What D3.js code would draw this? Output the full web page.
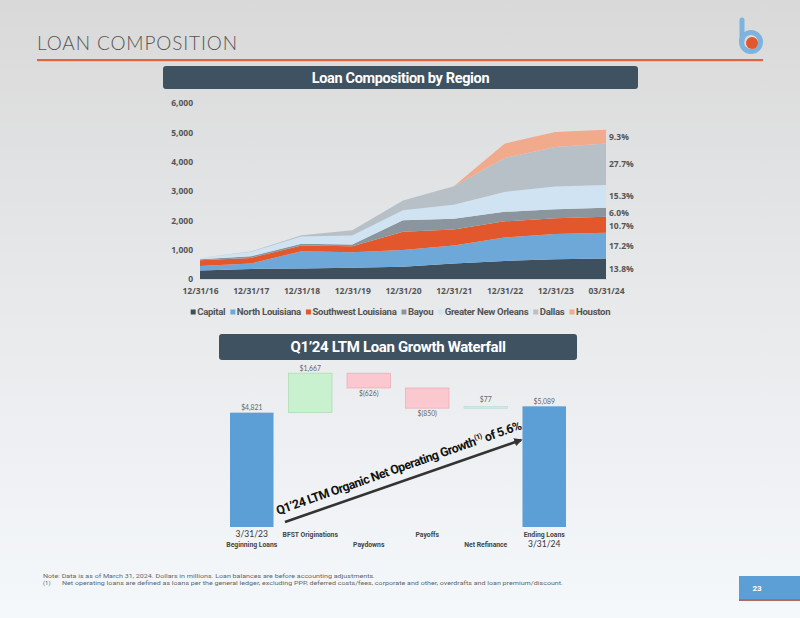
<!DOCTYPE html>
<html>
<head>
<meta charset="utf-8" />
<script src="https://cdn.jsdelivr.net/npm/d3@7"></script>
<style>
  body { margin: 0; }
  svg text { font-family: Roboto, "Open Sans", sans-serif; }
</style>
</head>
<body>
<script>
  // Loan composition by region ($M)
  var dates    = ["12/31/16","12/31/17","12/31/18","12/31/19","12/31/20","12/31/21","12/31/22","12/31/23","03/31/24"];
  var regions  = ["Capital","North Louisiana","Southwest Louisiana","Bayou","Greater New Orleans","Dallas","Houston"];
  var capital  = [290, 345, 360, 385, 420, 530, 615, 670, 702];
  var northLa  = [150, 180, 590, 530, 565, 610, 800, 860, 875];
  var swLa     = [200, 195, 190, 205, 625, 545, 550, 545, 545];
  var bayou    = [ 35,  55,  60,  55, 390, 365, 325, 305, 305];
  var gno      = [ 45, 145, 250, 305, 340, 485, 680, 770, 779];
  var dallas   = [  0,  20,  40, 180, 340, 625,1155,1350,1410];
  var houston  = [  0,   0,   0,   0,   0,   0, 490, 510, 473];
  var shares   = ["13.8%","17.2%","10.7%","6.0%","15.3%","27.7%","9.3%"];
  var regionColors = ["#3e4f5d","#6ea8d8","#e2572b","#8b959e","#d0e3f2","#b8c0c7","#f1aa8c"];
  var yTicks   = [0, 1000, 2000, 3000, 4000, 5000, 6000];

  // Q1'24 LTM waterfall ($M)
  var wfSteps  = ["BFST Originations","Paydowns","Payoffs","Net Refinance"];
  var wfStart  = 4821;
  var wfDeltas = [1667, -626, -850, 77];
  var wfEnd    = 5089;
  var wfTop    = [["3/31/23","Beginning Loans"],["BFST Originations",""],["","Paydowns"],["Payoffs",""],["","Net Refinance"],["Ending Loans","3/31/24"]];

  var W = 800, H = 618;
  var svg = d3.select("body").append("svg").attr("width", W).attr("height", H);

  var defs = svg.append("defs");
  var bg = defs.append("linearGradient").attr("id","bg").attr("x1",0).attr("y1",0).attr("x2",0).attr("y2",1);
  bg.append("stop").attr("offset","0%").attr("stop-color","#d9d9d9");
  bg.append("stop").attr("offset","55%").attr("stop-color","#e9ebed");
  bg.append("stop").attr("offset","100%").attr("stop-color","#f5f8fb");
  defs.append("marker").attr("id","arrowhead").attr("viewBox","0 0 10 10")
      .attr("refX",8).attr("refY",5).attr("markerWidth",3.2).attr("markerHeight",3.2)
      .attr("orient","auto")
    .append("path").attr("d","M0,0 L10,5 L0,10 z").attr("fill","#333");

  svg.append("rect").attr("width",W).attr("height",H).attr("fill","url(#bg)");

  // slide header
  svg.append("text").attr("x",37).attr("y",50).text("LOAN COMPOSITION")
     .style("font-family","Lato, sans-serif").style("font-weight",300)
     .attr("font-size",19).attr("fill","#555").attr("textLength",200);
  svg.append("rect").attr("x",37).attr("y",59).attr("width",726).attr("height",2).attr("fill","#dc6640");
  svg.append("rect").attr("x",37).attr("y",61).attr("width",726).attr("height",1).attr("fill","#efc2b0");

  // logo
  var logo = svg.append("g");
  logo.append("line").attr("x1",742).attr("y1",20).attr("x2",742).attr("y2",41)
      .attr("stroke","#7db3dd").attr("stroke-width",5).attr("stroke-linecap","round");
  logo.append("circle").attr("cx",751).attr("cy",42).attr("r",9.5)
      .attr("fill","none").attr("stroke","#7db3dd").attr("stroke-width",5);
  logo.append("circle").attr("cx",752).attr("cy",43).attr("r",6).attr("fill","#e2572b");

  function header(x, y, w, h, label, fs) {
    svg.append("rect").attr("x",x).attr("y",y).attr("width",w).attr("height",h)
       .attr("rx",3).attr("fill","#3f5261");
    svg.append("text").attr("x",x + w/2).attr("y",y + h/2 + 5).attr("text-anchor","middle")
       .attr("font-size",fs).attr("font-weight",700).attr("fill","#fff")
       .attr("letter-spacing",-0.35).text(label);
  }
  header(163, 66, 475, 23, "Loan Composition by Region", 14.5);
  header(219, 334, 358, 26, "Q1\u201924 LTM Loan Growth Waterfall", 15);

  // ---------- stacked area ----------
  var table = dates.map(function(d, i) {
    return {date: d, "Capital": capital[i], "North Louisiana": northLa[i], "Southwest Louisiana": swLa[i],
            "Bayou": bayou[i], "Greater New Orleans": gno[i], "Dallas": dallas[i], "Houston": houston[i]};
  });
  var series = d3.stack().keys(regions)(table);

  var x = d3.scalePoint().domain(dates).range([200, 606]);
  var y = d3.scaleLinear().domain([0, 6000]).range([279, 103]);
  var color = d3.scaleOrdinal().domain(regions).range(regionColors);

  var area = d3.area()
      .x(function(d) { return x(d.data.date); })
      .y0(function(d) { return y(d[0]); })
      .y1(function(d) { return y(d[1]); });

  svg.append("g").selectAll("path").data(series).join("path")
     .attr("fill", function(d) { return color(d.key); })
     .attr("d", area);

  svg.append("line").attr("x1",200).attr("x2",607).attr("y1",279.5).attr("y2",279.5)
     .attr("stroke","#d0d6dc").attr("stroke-width",1);

  var yAxis = svg.append("g").attr("transform","translate(193,0)")
     .call(d3.axisLeft(y).tickValues(yTicks).tickSize(0).tickPadding(0).tickFormat(d3.format(",")));
  yAxis.select(".domain").remove();
  yAxis.selectAll("text").attr("font-size",8.5).attr("font-weight",700).attr("fill","#555")
       .style("font-family","'Open Sans', sans-serif");

  var xAxis = svg.append("g").attr("transform","translate(0,284)")
     .call(d3.axisBottom(x).tickSize(0).tickPadding(4));
  xAxis.select(".domain").remove();
  xAxis.selectAll("text").attr("font-size",8.5).attr("font-weight",700).attr("fill","#555")
       .style("font-family","'Open Sans', sans-serif");

  // share labels at the right edge, centred on each band
  var labelNudge = [0, 0, 1, 1, 0, 0, 0];
  var last = dates.length - 1;
  svg.append("g").selectAll("text").data(series).join("text")
     .attr("x", 609)
     .attr("y", function(d, i) { return y((d[last][0] + d[last][1]) / 2) + 3 + labelNudge[i]; })
     .attr("font-size", 8.5).attr("font-weight", 700).attr("fill", "#555")
     .style("font-family","'Open Sans', sans-serif")
     .text(function(d, i) { return shares[i]; });

  // legend
  var legend = svg.append("g");
  var lx = 0;
  var items = legend.selectAll("g").data(regions).join("g");
  items.append("rect").attr("y",-5.5).attr("width",5).attr("height",5)
       .attr("fill", function(d) { return color(d); });
  items.append("text").attr("x",6.5).attr("font-size",9.6).attr("font-weight",700)
       .attr("fill","#555").attr("letter-spacing",-0.3).text(function(d) { return d; });
  items.each(function() {
    var g = d3.select(this);
    g.attr("transform","translate(" + lx + ",0)");
    lx += 6.5 + g.select("text").node().getComputedTextLength() + 5;
  });
  legend.attr("transform","translate(" + (403 - lx/2) + ",315)");

  // ---------- waterfall ----------
  var wfCats = ["begin"].concat(wfSteps).concat(["end"]);
  var bars = [];
  var run = wfStart;
  bars.push({cat: "begin", lo: 0, hi: wfStart, v: wfStart, kind: "total"});
  wfDeltas.forEach(function(dv, i) {
    var a = run, b = run + dv;
    bars.push({cat: wfSteps[i], lo: Math.min(a,b), hi: Math.max(a,b), v: dv, kind: dv >= 0 ? "up" : "down"});
    run = b;
  });
  bars.push({cat: "end", lo: 0, hi: wfEnd, v: wfEnd, kind: "total"});

  var xb = d3.scaleBand().domain(wfCats).range([230, 566]).paddingInner(0.256).paddingOuter(0);
  var yb = d3.scaleLinear().domain([0, 7000]).range([527, 361]);

  var fills   = {total: "#5b9fd6", up: "#c9f0cf", down: "#fbc8cf"};
  var strokes = {total: "none", up: "#9fd8aa", down: "#e8a3ad"};
  svg.append("g").selectAll("rect").data(bars).join("rect")
     .attr("x", function(d) { return xb(d.cat); })
     .attr("width", xb.bandwidth())
     .attr("y", function(d) { return yb(d.hi); })
     .attr("height", function(d) { return Math.max(2, yb(d.lo) - yb(d.hi)); })
     .attr("fill", function(d, i) { return (i === 4) ? "#cde9e0" : fills[d.kind]; })
     .attr("stroke", function(d, i) { return (i === 4) ? "#b7dccf" : strokes[d.kind]; })
     .attr("stroke-width", 0.6);

  var money = function(v) { return v < 0 ? "$(" + d3.format(",")(-v) + ")" : "$" + d3.format(",")(v); };
  svg.append("g").selectAll("text").data(bars).join("text")
     .attr("x", function(d) { return xb(d.cat) + xb.bandwidth()/2; })
     .attr("y", function(d, i) { return d.kind === "down" ? yb(d.lo) + 8 : yb(d.hi) - (i === 4 ? 4 : 2.5); })
     .attr("text-anchor","middle").attr("font-size",6.8).attr("fill","#666")
     .style("font-family","Lato, sans-serif")
     .text(function(d) { return money(d.v); });

  // category labels (staggered two lines)
  var catG = svg.append("g").selectAll("g").data(wfCats).join("g")
     .attr("transform", function(d) { return "translate(" + (xb(d) + xb.bandwidth()/2) + ",0)"; });
  catG.each(function(d, i) {
    var g = d3.select(this);
    wfTop[i].forEach(function(t, k) {
      if (!t) return;
      var isDate = /\d\/\d/.test(t);
      g.append("text").attr("y", k === 0 ? 537 : 546.5).attr("text-anchor","middle")
       .attr("font-size", isDate ? 8.5 : 6.8).attr("font-weight", isDate ? 400 : 700)
       .attr("fill", isDate ? "#333" : "#444")
       .style("font-family", isDate ? "Lato, sans-serif" : "Roboto, sans-serif")
       .text(t);
    });
  });

  // growth arrow + caption
  svg.append("line").attr("x1",285).attr("y1",522).attr("x2",521).attr("y2",440)
     .attr("stroke","#333").attr("stroke-width",2.6).attr("marker-end","url(#arrowhead)");
  var cap = svg.append("text").attr("transform","translate(278,515) rotate(-19.4)")
     .attr("font-size",12.4).attr("font-weight",700).attr("fill","#111").attr("letter-spacing",-0.5);
  cap.append("tspan").text("Q1\u201924 LTM Organic Net Operating Growth");
  cap.append("tspan").attr("font-size",7.2).attr("dy",-5).text("(1)");
  cap.append("tspan").attr("dy",5).text(" of 5.6%");

  // footnotes
  svg.append("text").attr("x",43).attr("y",578).attr("font-size",6).attr("fill","#666")
     .attr("textLength",332).attr("lengthAdjust","spacingAndGlyphs")
     .text("Note: Data is as of March 31, 2024. Dollars  in millions. Loan balances are before accounting adjustments.");
  svg.append("text").attr("x",43).attr("y",585).attr("font-size",6).attr("fill","#666").text("(1)");
  svg.append("text").attr("x",62).attr("y",585).attr("font-size",6).attr("fill","#666")
     .attr("textLength",501).attr("lengthAdjust","spacingAndGlyphs")
     .text("Net operating loans are defined as loans per the general ledger, excluding  PPP, deferred costs/fees, corporate and other, overdrafts  and loan  premium/discount.");

  // page number tab
  svg.append("rect").attr("x",739).attr("y",576).attr("width",61).attr("height",23).attr("fill","#5b9fd6");
  svg.append("rect").attr("x",739).attr("y",599).attr("width",61).attr("height",2).attr("fill","#b06a5f");
  svg.append("text").attr("x",757).attr("y",591).attr("font-size",8).attr("font-weight",700)
     .attr("fill","#fff").attr("text-anchor","middle").text("23");
</script>
</body>
</html>
